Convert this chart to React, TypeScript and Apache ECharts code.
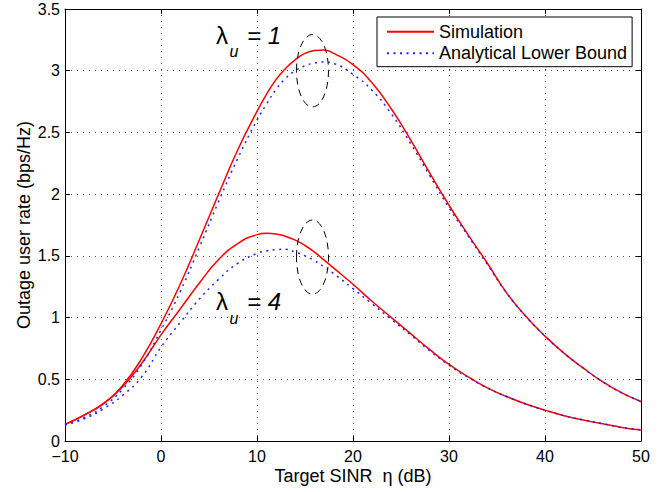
import React, { useEffect, useRef } from "react";
import * as echarts from "echarts";

// Target SINR (dB)
const snrDb = [-10, -8, -6, -4, -2, 0, 2, 4, 6, 8, 10, 11, 12, 13, 14, 15, 16, 17, 18, 20, 22, 24, 26, 28, 30, 32, 34, 36, 38, 40, 42, 44, 46, 48, 50];

// Simulation, lambda_u = 1
const simLambda1 = [0.135, 0.21, 0.305, 0.45, 0.67, 0.95, 1.27, 1.63, 2.0, 2.36, 2.67, 2.81, 2.93, 3.02, 3.09, 3.14, 3.163, 3.168, 3.14, 3.05, 2.9, 2.69, 2.44, 2.17, 1.91, 1.67, 1.44, 1.2, 1.01, 0.85, 0.71, 0.59, 0.48, 0.39, 0.32];
// Analytical lower bound, lambda_u = 1
const anaLambda1 = [0.13, 0.19, 0.28, 0.42, 0.62, 0.9, 1.21, 1.57, 1.94, 2.29, 2.6, 2.73, 2.85, 2.94, 3.0, 3.04, 3.062, 3.07, 3.058, 2.97, 2.84, 2.65, 2.41, 2.15, 1.89, 1.66, 1.43, 1.2, 1.01, 0.85, 0.71, 0.59, 0.48, 0.39, 0.32];
// Simulation, lambda_u = 4
const simLambda4 = [0.135, 0.21, 0.3, 0.44, 0.63, 0.86, 1.07, 1.28, 1.47, 1.6, 1.672, 1.683, 1.678, 1.658, 1.627, 1.584, 1.53, 1.465, 1.4, 1.27, 1.13, 1.0, 0.87, 0.74, 0.62, 0.52, 0.43, 0.36, 0.3, 0.25, 0.205, 0.17, 0.14, 0.11, 0.09];
// Analytical lower bound, lambda_u = 4
const anaLambda4 = [0.13, 0.18, 0.26, 0.37, 0.52, 0.76, 0.96, 1.15, 1.31, 1.44, 1.52, 1.54, 1.55, 1.553, 1.53, 1.5, 1.46, 1.41, 1.355, 1.235, 1.11, 0.985, 0.86, 0.73, 0.615, 0.515, 0.43, 0.36, 0.3, 0.25, 0.205, 0.17, 0.14, 0.11, 0.09];

// Dashed ellipses: [centre x (dB), centre y, half-width (dB), half-height]
const ellipses = [
  [15.78, 3.0, 1.67, 0.293],
  [15.78, 1.49, 1.67, 0.3],
];

const seriesNames = ["Simulation", "Analytical Lower Bound"];

const FONT = "'Liberation Sans', Arial, Helvetica, sans-serif";

export default function App() {
  const ref = useRef<HTMLDivElement>(null);

  useEffect(() => {
    document.body.style.margin = "0";
    const chart = echarts.init(ref.current!, null, { renderer: "svg" });
    const pair = (ys: number[]) => snrDb.map((x, i) => [x, ys[i]]);

    const axisLine = { show: true, onZero: false, lineStyle: { color: "#000", width: 1 } };
    const axisTick = { show: true, inside: true, length: 5, lineStyle: { color: "#000", width: 1 } };
    const splitLine = { show: true, lineStyle: { color: "#555", width: 1, type: [1, 5] } };

    const red = { color: "#ff0000", width: 1.5 };
    const blue = { color: "#2020ff", width: 1.5, type: [2, 4.5] };

    const lineSeries = (name: string, ys: number[], style: any, z: number) => ({
      name,
      type: "line",
      data: pair(ys),
      symbol: "none",
      showSymbol: false,
      smooth: 0.5,
      lineStyle: style,
      itemStyle: { color: style.color },
      z,
    });

    chart.setOption({
      animation: false,
      textStyle: { fontFamily: FONT },
      grid: { left: 65, right: 31, top: 9, bottom: 51, containLabel: false, outerBoundsMode: "none" },
      xAxis: [
        {
          type: "value",
          min: -10,
          max: 50,
          interval: 10,
          position: "bottom",
          name: "Target SINR  η (dB)",
          nameLocation: "middle",
          nameGap: 25.5,
          nameMoveOverlap: false,
          nameTextStyle: { fontSize: 18, lineHeight: 18, color: "#000", fontFamily: FONT },
          axisLine,
          axisTick,
          axisLabel: {
            fontSize: 16,
            lineHeight: 16,
            color: "#000",
            margin: 7.5,
            fontFamily: FONT,
            formatter: (v: number) => String(v).replace("-", "−"),
          },
          splitLine,
        },
        {
          type: "value",
          min: -10,
          max: 50,
          interval: 10,
          position: "top",
          axisLine,
          axisTick,
          axisLabel: { show: false },
          splitLine: { show: false },
        },
      ],
      yAxis: [
        {
          type: "value",
          min: 0,
          max: 3.5,
          interval: 0.5,
          position: "left",
          name: "Outage user rate (bps/Hz)",
          nameLocation: "middle",
          nameGap: 32,
          nameMoveOverlap: false,
          nameTextStyle: { fontSize: 18, color: "#000", fontFamily: FONT },
          axisLine,
          axisTick,
          axisLabel: { fontSize: 16, color: "#000", margin: 5, fontFamily: FONT },
          splitLine,
        },
        {
          type: "value",
          min: 0,
          max: 3.5,
          interval: 0.5,
          position: "right",
          axisLine,
          axisTick,
          axisLabel: { show: false },
          splitLine: { show: false },
        },
      ],
      legend: {
        orient: "vertical",
        left: 377,
        top: 17,
        padding: [5.7, 5, 4.4, 9],
        itemWidth: 47,
        itemHeight: 18,
        itemGap: 3.6,
        borderColor: "#000",
        borderWidth: 1,
        backgroundColor: "#fff",
        selectedMode: false,
        itemStyle: { opacity: 0, color: "rgba(0,0,0,0)", borderWidth: 0 },
        textStyle: { fontSize: 18, color: "#000", fontFamily: FONT, lineHeight: 18 },
        data: seriesNames.map((n) => ({ name: n })),
      },
      series: [
        lineSeries(seriesNames[0], simLambda1, red, 2),
        lineSeries(seriesNames[0], simLambda4, red, 2),
        lineSeries(seriesNames[1], anaLambda1, blue, 3),
        lineSeries(seriesNames[1], anaLambda4, blue, 3),
        {
          type: "custom",
          name: "ellipse",
          silent: true,
          z: 4,
          data: ellipses,
          renderItem: (_params: any, api: any) => {
            const c = api.coord([api.value(0), api.value(1)]);
            const s = api.size([api.value(2), api.value(3)]);
            return {
              type: "ellipse",
              shape: { cx: c[0], cy: c[1], rx: s[0], ry: s[1] },
              style: { fill: "none", stroke: "#000", lineWidth: 1, lineDash: [7, 5] },
            };
          },
        },
      ],
      graphic: [
        { type: "text", x: 216, y: 35, style: { text: "λ", fontSize: 24, fontFamily: FONT, fill: "#000", align: "left", verticalAlign: "middle" } },
        { type: "text", x: 229.5, y: 51.5, style: { text: "u", fontSize: 16, fontStyle: "italic", fontFamily: FONT, fill: "#000", align: "left", verticalAlign: "middle" } },
        { type: "text", x: 247, y: 35, style: { text: "= 1", fontSize: 24, fontStyle: "italic", fontFamily: FONT, fill: "#000", align: "left", verticalAlign: "middle" } },
        { type: "text", x: 216, y: 301, style: { text: "λ", fontSize: 24, fontFamily: FONT, fill: "#000", align: "left", verticalAlign: "middle" } },
        { type: "text", x: 229.5, y: 318, style: { text: "u", fontSize: 16, fontStyle: "italic", fontFamily: FONT, fill: "#000", align: "left", verticalAlign: "middle" } },
        { type: "text", x: 247, y: 301, style: { text: "= 4", fontSize: 24, fontStyle: "italic", fontFamily: FONT, fill: "#000", align: "left", verticalAlign: "middle" } },
      ],
    });

    return () => chart.dispose();
  }, []);

  return <div ref={ref} style={{ width: 672, height: 492 }} />;
}
